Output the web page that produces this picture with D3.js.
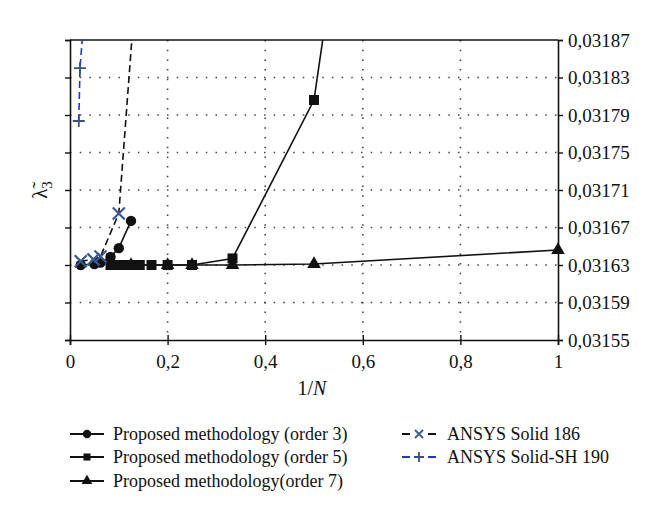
<!DOCTYPE html>
<html>
<head>
<meta charset="utf-8">
<script src="https://cdn.jsdelivr.net/npm/d3@7"></script>
<style>
body { margin: 0; background: #fff; }
text { font-family: "Liberation Serif", "DejaVu Serif", serif; fill: #111; }
</style>
</head>
<body>
<div id="chart"></div>
<script>
// 1/N values and lambda_3 values
var invN3  = [0.022, 0.05, 0.0625, 0.083, 0.1, 0.125];
var order3 = [0.03163, 0.031631, 0.0316325, 0.0316385, 0.031648, 0.031677];

var invN5  = [0.083, 0.091, 0.1, 0.111, 0.125, 0.143, 0.167, 0.2, 0.25, 0.333, 0.5, 1];
var order5 = [0.03163, 0.03163, 0.03163, 0.03163, 0.03163, 0.03163, 0.03163, 0.03163, 0.03163, 0.031637, 0.031806, 0.0336];

var invN7  = [0.125, 0.2, 0.25, 0.333, 0.5, 1];
var order7 = [0.03163, 0.03163, 0.03163, 0.03163, 0.031631, 0.031646];

var invN186  = [0.022, 0.048, 0.0625, 0.1, 0.167];
var ansys186 = [0.031634, 0.031636, 0.031639, 0.031685, 0.03215];

var invN190  = [0.018, 0.0205, 0.028];
var ansys190 = [0.0317836, 0.03184, 0.03189];

var xTicks = [0, 0.2, 0.4, 0.6, 0.8, 1];
var yTicks = [0.03155, 0.03159, 0.03163, 0.03167, 0.03171, 0.03175, 0.03179, 0.03183, 0.03187];

var width = 660, height = 526;
var pLeft = 70, pRight = 558, pTop = 40, pBottom = 340;

var svg = d3.select("#chart").append("svg")
  .attr("width", width)
  .attr("height", height);

var x = d3.scaleLinear().domain([0, 1]).range([pLeft, pRight]);
var y = d3.scaleLinear().domain([0.03155, 0.03187]).range([pBottom, pTop]);

var comma = function(d) { return String(d).replace(".", ","); };

// dotted grid
svg.append("g").selectAll("line")
  .data(yTicks.slice(1, -1))
  .enter().append("line")
  .attr("x1", pLeft).attr("x2", pRight)
  .attr("y1", function(d) { return y(d); })
  .attr("y2", function(d) { return y(d); })
  .attr("stroke", "#444")
  .attr("stroke-width", 1.6)
  .attr("stroke-dasharray", "1.5,8.2");

svg.append("g").selectAll("line")
  .data(xTicks.slice(1, -1))
  .enter().append("line")
  .attr("y1", pTop).attr("y2", pBottom)
  .attr("x1", function(d) { return x(d); })
  .attr("x2", function(d) { return x(d); })
  .attr("stroke", "#444")
  .attr("stroke-width", 1.6)
  .attr("stroke-dasharray", "1.5,8.2");

// top border
svg.append("line")
  .attr("x1", pLeft).attr("x2", pRight)
  .attr("y1", pTop).attr("y2", pTop)
  .attr("stroke", "#111").attr("stroke-width", 1.6);

// axes
var xAxis = svg.append("g")
  .attr("transform", "translate(0," + pBottom + ")")
  .call(d3.axisBottom(x).tickValues(xTicks).tickFormat(comma).tickSize(5).tickPadding(10));
xAxis.selectAll(".tick line").attr("y1", -5);

var yLeft = svg.append("g")
  .attr("transform", "translate(" + pLeft + ",0)")
  .call(d3.axisLeft(y).tickValues(yTicks).tickFormat("").tickSize(5));

var yRight = svg.append("g")
  .attr("transform", "translate(" + pRight + ",0)")
  .call(d3.axisRight(y).tickValues(yTicks).tickFormat(comma).tickSize(5).tickPadding(5));

svg.selectAll(".domain").attr("stroke", "#111").attr("stroke-width", 1.6);
svg.selectAll(".tick line").attr("stroke", "#111").attr("stroke-width", 1.4);
svg.selectAll(".tick text")
  .style("font-family", "'Liberation Serif', serif")
  .style("font-size", "19px")
  .attr("fill", "#111");

// axis titles
var xt = svg.append("text")
  .attr("x", (pLeft + pRight) / 2 - 2)
  .attr("y", 395)
  .attr("text-anchor", "middle")
  .style("font-size", "20px");
xt.append("tspan").text("1/");
xt.append("tspan").style("font-style", "italic").text("N");

var yt = svg.append("text")
  .attr("transform", "translate(47,190) rotate(-90)")
  .attr("text-anchor", "middle")
  .style("font-size", "21px");
yt.append("tspan").text("\u03BB\u0303");
yt.append("tspan").attr("dy", 5).style("font-size", "15px").text("3");

// plot area clip
svg.append("clipPath").attr("id", "plot")
  .append("rect")
  .attr("x", pLeft).attr("y", pTop)
  .attr("width", pRight - pLeft).attr("height", pBottom - pTop);

var line = d3.line()
  .x(function(d) { return x(d[0]); })
  .y(function(d) { return y(d[1]); });

var series = [
  { xs: invN7, ys: order7, stroke: "#111", dash: null, sym: d3.symbolTriangle, size: 80, mark: "#111" },
  { xs: invN5, ys: order5, stroke: "#111", dash: null, sym: d3.symbolSquare, size: 100, mark: "#111" },
  { xs: invN3, ys: order3, stroke: "#111", dash: null, sym: d3.symbolCircle, size: 85, mark: "#111" },
  { xs: invN186, ys: ansys186, stroke: "#111", dash: "7,4", sym: d3.symbolCross, size: 0, mark: "#3a5a8c" },
  { xs: invN190, ys: ansys190, stroke: "#1f35d8", dash: "7,4", sym: d3.symbolCross, size: 0, mark: "#3a4f86" }
];

var plot = svg.append("g").attr("clip-path", "url(#plot)");

series.forEach(function(s, k) {
  var pts = s.xs.map(function(v, i) { return [v, s.ys[i]]; });
  plot.append("path")
    .datum(pts)
    .attr("d", line)
    .attr("fill", "none")
    .attr("stroke", s.stroke)
    .attr("stroke-width", 1.6)
    .attr("stroke-dasharray", s.dash);
});

// markers are not clipped at the axis, only dropped when off the chart
var marks = svg.append("g");
series.forEach(function(s, k) {
  var pts = s.xs.map(function(v, i) { return [v, s.ys[i]]; })
    .filter(function(d) { return d[1] <= 0.03187; });

  var g = marks.append("g").selectAll("g")
    .data(pts)
    .enter().append("g")
    .attr("transform", function(d) { return "translate(" + x(d[0]) + "," + y(d[1]) + ")"; });

  if (k == 3) {
    g.append("path").attr("d", "M-6,-6L6,6M-6,6L6,-6")
      .attr("stroke", s.mark).attr("stroke-width", 2.2);
  } else if (k == 4) {
    g.append("path").attr("d", "M-6,0L6,0M0,-6L0,6")
      .attr("stroke", s.mark).attr("stroke-width", 1.8);
  } else {
    g.append("path").attr("d", d3.symbol().type(s.sym).size(s.size))
      .attr("fill", s.mark);
  }
});

// legend
var legendItems = [
  { label: "Proposed methodology (order 3)", x: 70, y: 434, k: 2 },
  { label: "Proposed methodology (order 5)", x: 70, y: 457, k: 1 },
  { label: "Proposed methodology(order 7)", x: 70, y: 481, k: 0 },
  { label: "ANSYS Solid 186", x: 402, y: 434, k: 3 },
  { label: "ANSYS Solid-SH 190", x: 402, y: 457, k: 4 }
];

var leg = svg.append("g").selectAll("g")
  .data(legendItems)
  .enter().append("g")
  .attr("transform", function(d) { return "translate(" + d.x + "," + d.y + ")"; });

leg.each(function(d) {
  var g = d3.select(this);
  var s = series[d.k];
  if (d.k < 3) {
    g.append("line").attr("x1", 0).attr("x2", 34)
      .attr("stroke", "#111").attr("stroke-width", 1.8);
    g.append("path").attr("transform", "translate(17,0)")
      .attr("d", d3.symbol().type(s.sym).size(d.k == 2 ? 55 : 50))
      .attr("fill", "#111");
  } else {
    g.append("line").attr("x1", 0).attr("x2", 34)
      .attr("stroke", s.stroke).attr("stroke-width", 1.8)
      .attr("stroke-dasharray", "8,18");
    g.append("path").attr("transform", "translate(17,0)")
      .attr("d", d.k == 3 ? "M-4,-4L4,4M-4,4L4,-4" : "M-5,0L5,0M0,-5L0,5")
      .attr("stroke", s.mark).attr("stroke-width", 1.8);
  }
  g.append("text")
    .attr("x", d.k < 3 ? 43 : 45)
    .attr("y", 6)
    .style("font-size", "18px")
    .text(d.label);
});
</script>
</body>
</html>
